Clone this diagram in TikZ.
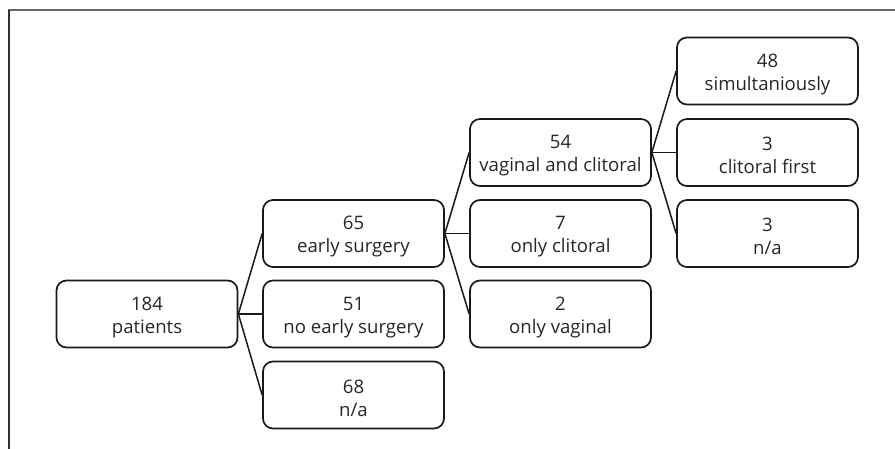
\documentclass[tikz,border=0pt]{standalone}
\usepackage{fontspec}
\setmainfont{Open Sans}
\newcommand{\toplift}{\rule{0pt}{19.5pt}}
\begin{document}
\begin{tikzpicture}[x=1pt,y=-1pt,
  box/.style={draw=black!90,line width=1.7pt,rounded corners=10pt,minimum width=181pt,minimum height=67pt,align=center,font=\fontsize{18.6}{23}\selectfont,text=black!85,inner sep=0pt},
  conn/.style={draw=black!90,line width=1.5pt},
  frame/.style={line width=2pt,draw=black!60}]
\useasboundingbox (0,0) rectangle (895,449);
\draw[frame] (8,10.5) -- (895,10.5);
\draw[line width=1.6pt,draw=black!80] (9,10) -- (9,449);
\node[box] (p) at (147,314) {\toplift 184\\patients};
\node[box] (es) at (353.5,233.5) {\toplift 65\\early surgery};
\node[box] (nes) at (353.5,314) {\toplift 51\\no early surgery};
\node[box] (na1) at (353.5,395) {\toplift 68\\n/a};
\node[box] (vc) at (560.5,152.5) {\toplift 54\\vaginal and clitoral};
\node[box] (oc) at (560.5,233.5) {\toplift 7\\only clitoral};
\node[box] (ov) at (560.5,314) {\toplift 2\\only vaginal};
\node[box] (sim) at (767.5,71) {\toplift 48\\simultaniously};
\node[box] (cf) at (767.5,152.5) {\toplift 3\\clitoral first};
\node[box] (na2) at (767.5,233.5) {\toplift 3\\n/a};
\foreach \a/\b in {p/es,p/nes,p/na1,es/vc,es/oc,es/ov,vc/sim,vc/cf,vc/na2}
  \draw[conn] (\a.east) -- (\b.west);
\end{tikzpicture}
\end{document}
